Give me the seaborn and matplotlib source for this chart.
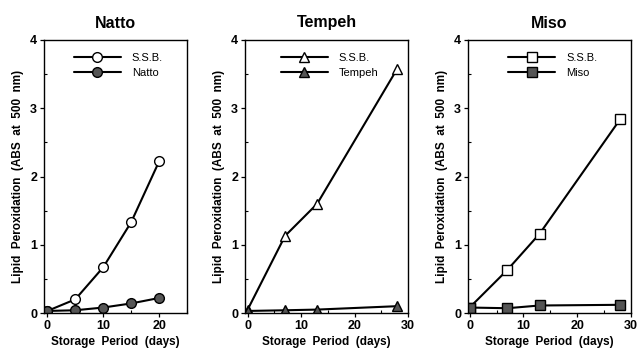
import matplotlib
matplotlib.use("Agg")
import matplotlib.pyplot as plt
import seaborn as sns
import pandas as pd
from matplotlib.ticker import MultipleLocator

sns.set_theme(style="ticks")
plt.rcParams['font.family'] = ['Liberation Sans', 'DejaVu Sans']
plt.rcParams['text.color'] = 'black'
plt.rcParams['axes.labelcolor'] = 'black'
plt.rcParams['xtick.color'] = 'black'
plt.rcParams['ytick.color'] = 'black'

# ---- data ----
natto_days = [0, 5, 10, 15, 20]
natto_ssb = [0.03, 0.20, 0.67, 1.33, 2.22]
natto_food = [0.03, 0.04, 0.08, 0.14, 0.22]

tempeh_days = [0, 7, 13, 28]
tempeh_ssb = [0.05, 1.13, 1.60, 3.58]
tempeh_food = [0.03, 0.04, 0.05, 0.10]

miso_days = [0, 7, 13, 28]
miso_ssb = [0.08, 0.63, 1.16, 2.84]
miso_food = [0.08, 0.07, 0.11, 0.12]

titles = ["Natto", "Tempeh", "Miso"]
food_labels = ["Natto", "Tempeh", "Miso"]
ssb_label = "S.S.B."
markers = ["o", "^", "s"]
x_ticks = [[0, 10, 20], [0, 10, 20, 30], [0, 10, 20, 30]]
x_limits = [(-0.6, 25), (-0.5, 30), (-0.3, 30)]
y_ticks = [0, 1, 2, 3, 4]
ylabel = "Lipid  Peroxidation  (ABS  at  500  nm)"
xlabel = "Storage  Period  (days)"

panels = [
    (natto_days, natto_ssb, natto_food),
    (tempeh_days, tempeh_ssb, tempeh_food),
    (miso_days, miso_ssb, miso_food),
]

fig = plt.figure(figsize=(6.43, 3.51), dpi=100)
W, H = 643, 351
boxes = [(44, 187), (245, 408), (468, 631)]
top_px, bot_px = 40, 313

for i, ((days, ssb, food), (l, r)) in enumerate(zip(panels, boxes)):
    ax = fig.add_axes([l / W, (H - bot_px) / H, (r - l) / W, (bot_px - top_px) / H])
    df = pd.DataFrame({"day": days, "ssb": ssb, "food": food})
    msize = 7 if markers[i] != "^" else 7.5
    sns.lineplot(data=df, x="day", y="ssb", ax=ax, color="black", lw=1.5,
                 marker=markers[i], markersize=msize, markerfacecolor="white",
                 markeredgecolor="black", markeredgewidth=1.0, label=ssb_label)
    sns.lineplot(data=df, x="day", y="food", ax=ax, color="black", lw=1.5,
                 marker=markers[i], markersize=msize, markerfacecolor="#555555",
                 markeredgecolor="black", markeredgewidth=1.0, label=food_labels[i])
    ax.set_xlim(*x_limits[i])
    ax.set_ylim(0, 4)
    ax.set_xticks(x_ticks[i])
    ax.set_yticks(y_ticks)
    ax.xaxis.set_minor_locator(MultipleLocator(5))
    ax.yaxis.set_minor_locator(MultipleLocator(0.5))
    ax.tick_params(which="major", direction="out", length=3, width=0.9,
                   labelsize=9, pad=2, colors="black")
    ax.tick_params(which="minor", direction="in", length=2.5, width=0.8)
    for lab in ax.get_xticklabels() + ax.get_yticklabels():
        lab.set_fontweight("bold")
    for s in ax.spines.values():
        s.set_linewidth(1.0)
        s.set_color("black")
    ax.set_title(titles[i], fontsize=11.5, fontweight="bold", pad=9, color="black")
    ax.set_xlabel(xlabel, fontsize=8.5, fontweight="bold", labelpad=3)
    ax.set_ylabel(ylabel, fontsize=8.5, fontweight="bold", labelpad=4)
    leg = ax.legend(loc="upper center", bbox_to_anchor=(0.52, 0.99), frameon=False,
                    fontsize=8, handlelength=4.2, handletextpad=1.0,
                    labelspacing=0.5)

fig.savefig("out.png", dpi=100)
